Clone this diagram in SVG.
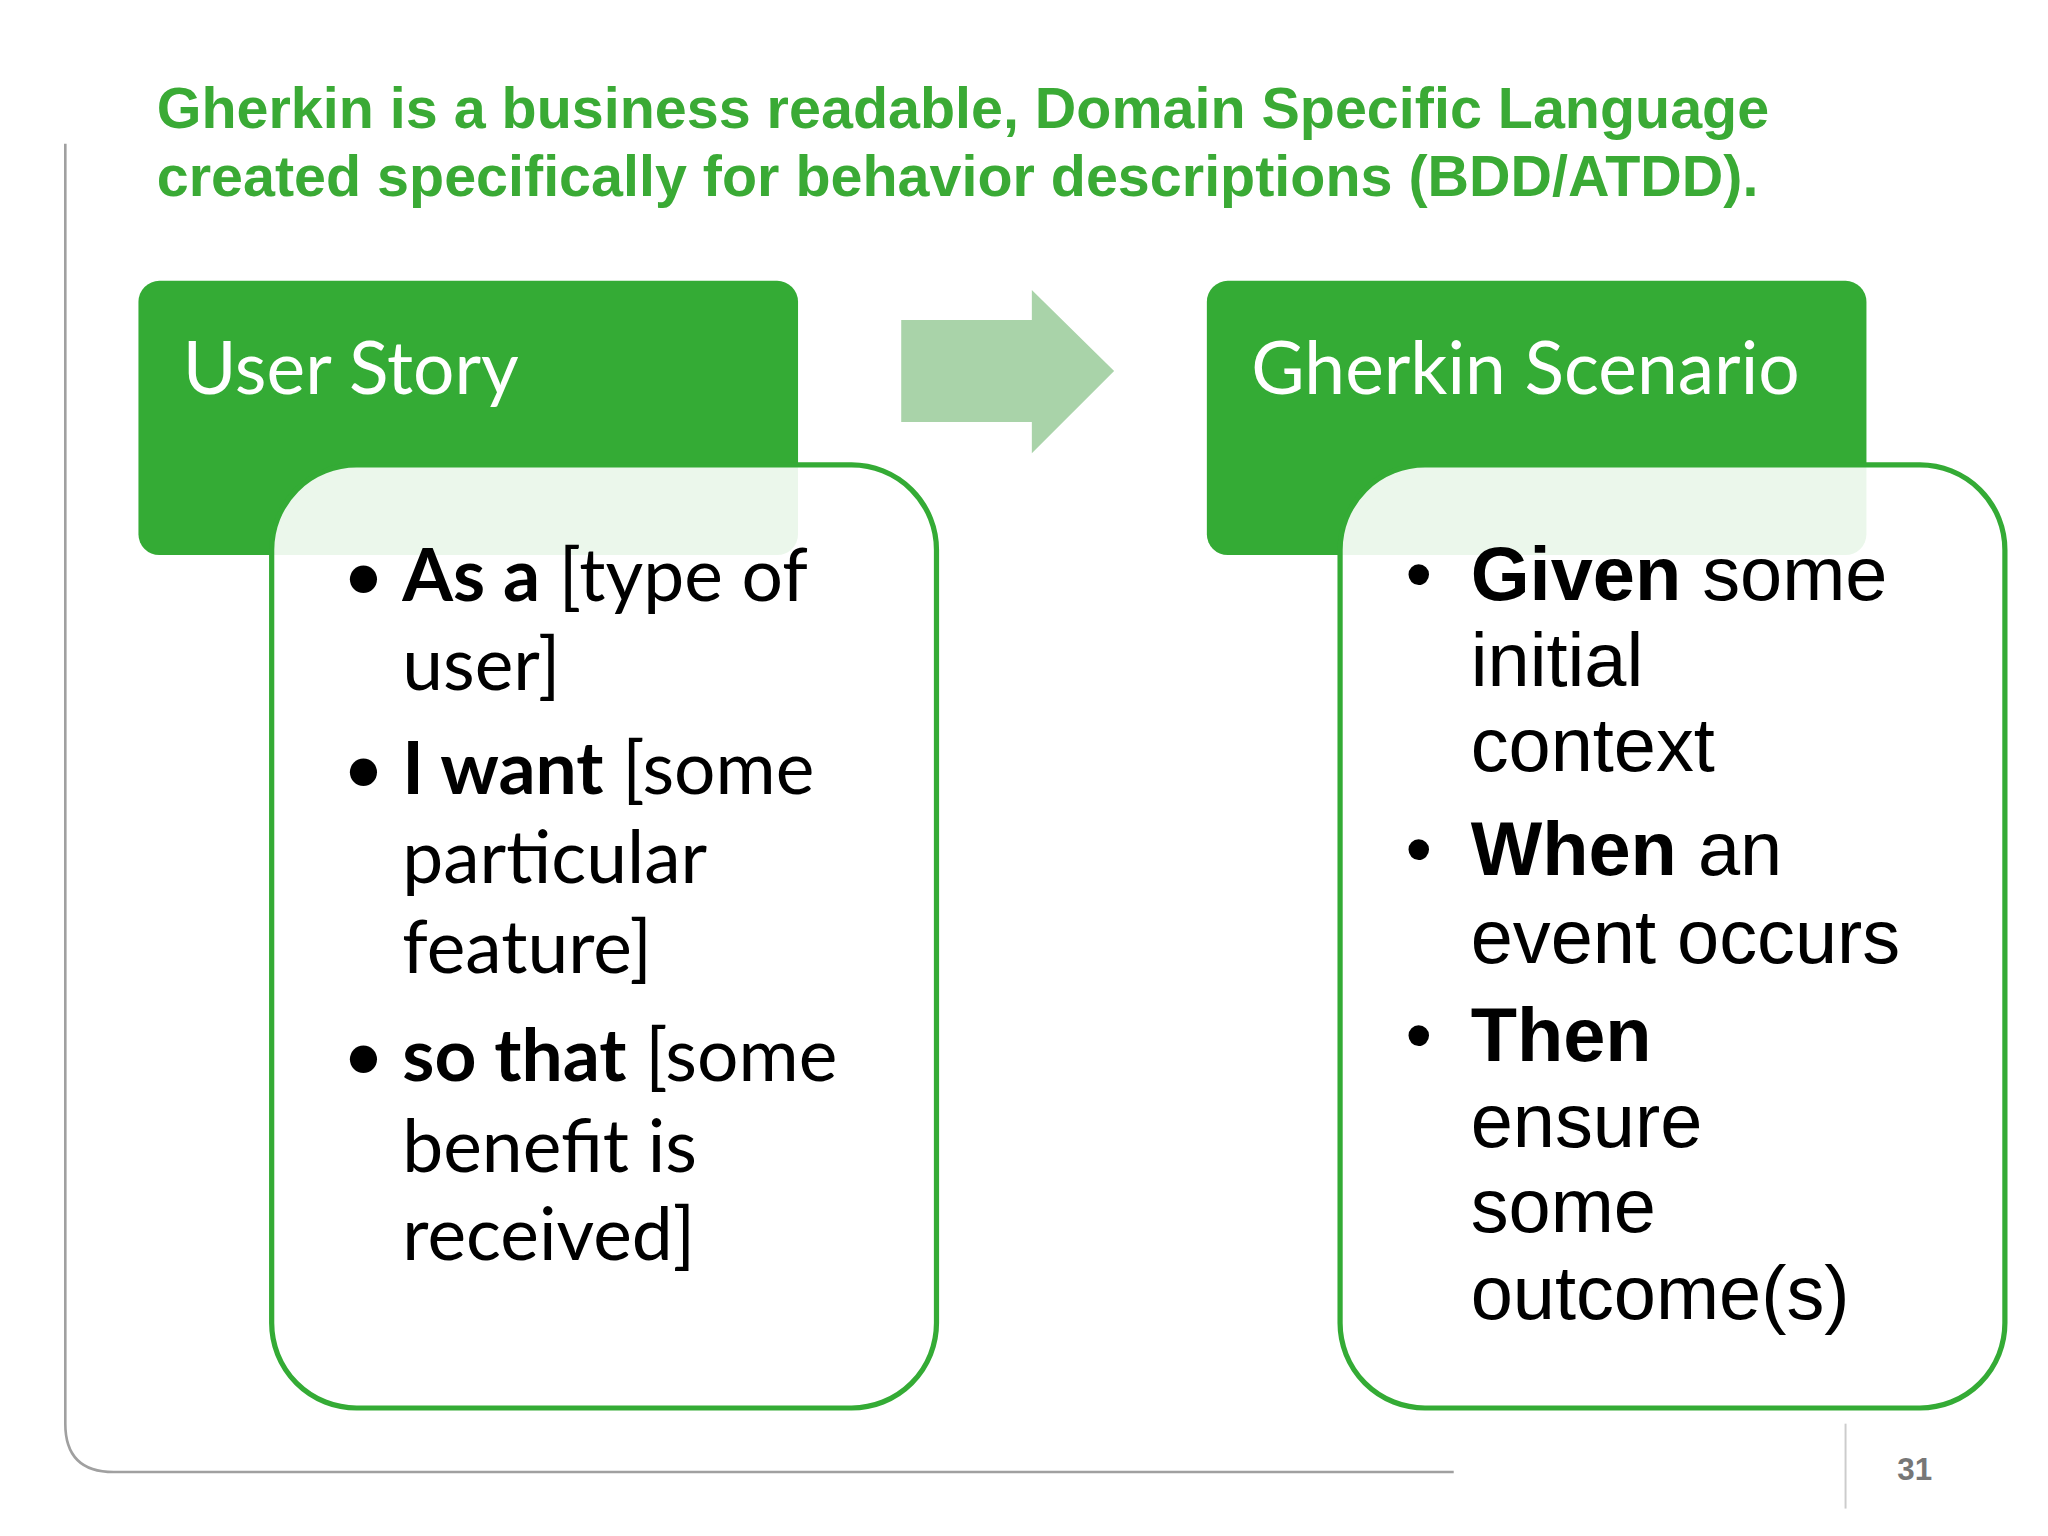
<svg xmlns="http://www.w3.org/2000/svg" width="2048" height="1536" viewBox="0 0 2048 1536">
<style>
.t{font-family:"Liberation Sans",Arial,sans-serif;font-weight:bold;font-size:44px;fill:#3aaa35}
.h{font-family:Lato,"Open Sans",sans-serif;font-size:56px;fill:#fff}
.l{font-family:Lato,"Open Sans",sans-serif;font-size:56px;fill:#000}
.r{font-family:"Liberation Sans",Arial,sans-serif;font-size:58px;fill:#000}
.b{font-weight:bold}
.hdr{fill:#34ab35}
.body{fill:#fff;fill-opacity:0.9;stroke:#34ab35;stroke-width:4}
</style>
<rect width="2048" height="1536" fill="#fff"/>
<g transform="scale(1.30612)">
<g id="title">
<text class="t" x="120" y="98">Gherkin is a business readable, Domain Specific Language</text>
<text class="t" x="120" y="150">created specifically for behavior descriptions (BDD/ATDD).</text>
</g>
<path d="M50 110 V1090 Q50 1127 87 1127 H1113" fill="none" stroke="#a0a0a0" stroke-width="2"/>
<g id="userstory-header">
<rect class="hdr" x="106" y="215" width="505" height="210" rx="16"/>
<text class="h" x="140" y="302">User Story</text>
</g>
<g id="userstory-body">
<rect class="body" x="208" y="356" width="509" height="722" rx="65"/>
<g class="l">
<text x="262" y="460">•</text><text x="308" y="460"><tspan class="b">As a</tspan> [type of</text>
<text x="308" y="528">user]</text>
<text x="262" y="608">•</text><text x="308" y="608"><tspan class="b">I want</tspan> [some</text>
<text x="308" y="676">particular</text>
<text x="308" y="745">feature]</text>
<text x="262" y="828">•</text><text x="308" y="828"><tspan class="b">so that</tspan> [some</text>
<text x="308" y="897">benefit is</text>
<text x="308" y="965">received]</text>
</g>
</g>
<g id="connectors">
<path d="M690 245 H790 V222 L853 284 L790 347 V323 H690 Z" fill="#a9d3a9"/>
</g>
<g id="gherkin-header">
<rect class="hdr" x="924" y="215" width="505" height="210" rx="16"/>
<text class="h" x="958" y="302">Gherkin Scenario</text>
</g>
<g id="gherkin-body">
<rect class="body" x="1026" y="356" width="509" height="722" rx="65"/>
<g class="r">
<text x="1076" y="459">•</text><text x="1126" y="459"><tspan class="b">Given</tspan> some</text>
<text x="1126" y="525">initial</text>
<text x="1126" y="590">context</text>
<text x="1076" y="670">•</text><text x="1126" y="670"><tspan class="b">When</tspan> an</text>
<text x="1126" y="737">event occurs</text>
<text x="1076" y="812">•</text><text x="1126" y="812" class="b">Then</text>
<text x="1126" y="878">ensure</text>
<text x="1126" y="943">some</text>
<text x="1126" y="1010">outcome(s)</text>
</g>
</g>
<line x1="1413" y1="1090" x2="1413" y2="1155" stroke="#ccc" stroke-width="1.5"/>
<text x="1466" y="1133" text-anchor="middle" font-family="Liberation Sans,Arial,sans-serif" font-weight="bold" font-size="24" fill="#777">31</text>
</g>
</svg>
